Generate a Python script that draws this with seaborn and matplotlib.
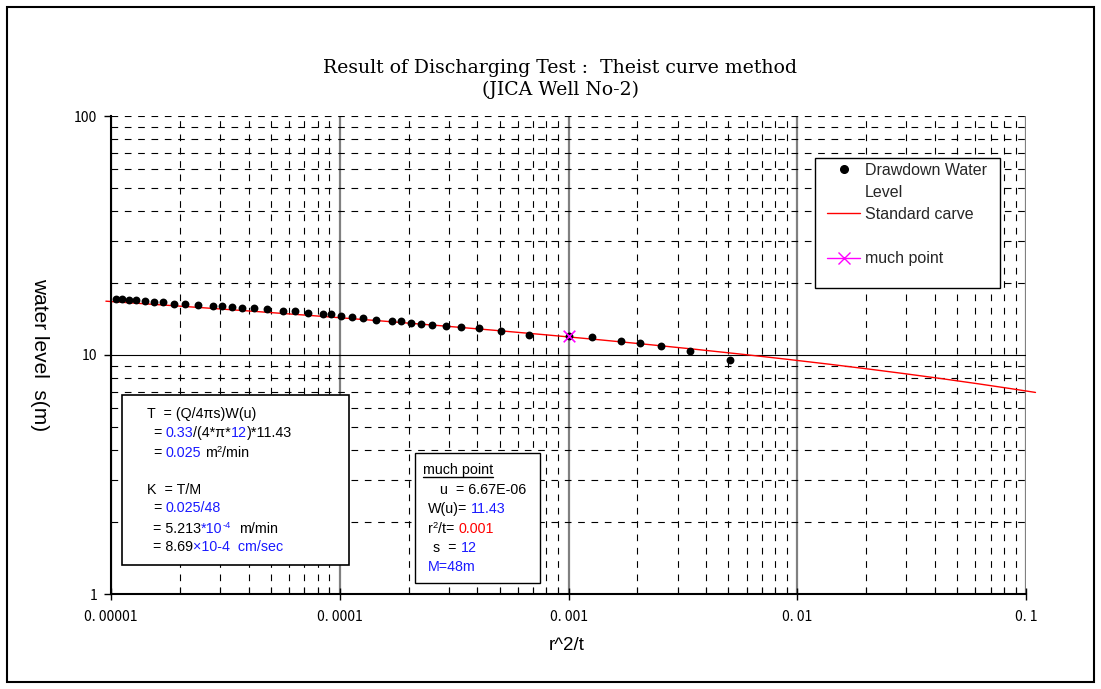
import numpy as np
import pandas as pd
import matplotlib
matplotlib.use("Agg")
import matplotlib.pyplot as plt
import seaborn as sns
from matplotlib.lines import Line2D
from matplotlib.patches import Rectangle
from matplotlib.ticker import FixedLocator, NullFormatter

# ---- observed drawdown: r^2/t (m^2/min) against drawdown s (m) ----
r2_t = [1.05e-5, 1.12e-5, 1.20e-5, 1.29e-5, 1.41e-5, 1.54e-5, 1.68e-5, 1.88e-5, 2.10e-5, 2.39e-5,
        2.79e-5, 3.06e-5, 3.39e-5, 3.73e-5, 4.23e-5, 4.83e-5, 5.64e-5, 6.37e-5, 7.26e-5, 8.44e-5,
        9.18e-5, 1.016e-4, 1.13e-4, 1.27e-4, 1.44e-4, 1.69e-4, 1.85e-4, 2.04e-4, 2.26e-4, 2.54e-4,
        2.90e-4, 3.39e-4, 4.05e-4, 5.06e-4, 6.73e-4, 1.0e-3, 1.27e-3, 1.70e-3, 2.05e-3, 2.55e-3,
        3.40e-3, 5.08e-3]
drawdown = [17.1, 17.1, 16.94, 16.94, 16.9, 16.71, 16.61, 16.39, 16.39, 16.19,
            16.03, 16.03, 15.84, 15.68, 15.68, 15.53, 15.33, 15.24, 14.92, 14.9,
            14.81, 14.61, 14.47, 14.33, 13.98, 13.84, 13.84, 13.65, 13.52, 13.39,
            13.26, 13.13, 12.93, 12.56, 12.16, 12.0, 11.93, 11.44, 11.19, 10.88,
            10.42, 9.56]

# ---- match point of the Theis type curve ----
match_u = 6.67e-6
match_wu = 11.43
match_r2t = 0.001
match_s = 12.0
curve_span = (9.5e-6, 0.11)

# ---- axes ticks ----
x_ticks = [1e-5, 1e-4, 1e-3, 1e-2, 1e-1]
x_tick_labels = ["0. 00001", "0. 0001", "0. 001", "0. 01", "0. 1"]
y_ticks = [1, 10, 100]
y_tick_labels = ["1", "10", "100"]

BLACK = "black"
BLUE = "#1a1aff"
RED = "#ff0000"
MAGENTA = "#ff00ff"


def well_function(u):
    """Theis well function W(u) = E1(u) via its power series."""
    u = np.asarray(u, dtype=float)
    total = -0.5772156649 - np.log(u)
    term = np.ones_like(u)
    for n in range(1, 30):
        term = term * (-u) / n
        total -= term / n
    return total


sns.set_style("white")
plt.rcParams["font.family"] = ["Liberation Sans", "DejaVu Sans"]

W, H = 1101, 689
fig = plt.figure(figsize=(W / 100, H / 100), dpi=100, facecolor="white")


def fx(px):
    return px / W


def fy(py):
    return 1 - py / H


ax = fig.add_axes([fx(111), fy(594), (1026 - 111) / W, (594 - 116) / H])
ax.set_xscale("log")
ax.set_yscale("log")

# standard (type) curve through the match point
xs = np.geomspace(curve_span[0], curve_span[1], 400)
s_curve = match_s / match_wu * well_function(match_u * xs / match_r2t)
sns.lineplot(x=xs, y=s_curve, ax=ax, color=RED, linewidth=1.0, estimator=None, sort=False)
ax.lines[-1].set_clip_on(False)

obs = pd.DataFrame({"r2_t": r2_t, "s": drawdown})
sns.scatterplot(data=obs, x="r2_t", y="s", ax=ax, color=BLACK, s=32, linewidth=0, zorder=3)
sns.scatterplot(x=[match_r2t], y=[match_s], ax=ax, marker="x", color=MAGENTA, s=70,
                linewidth=1.2, zorder=4)

ax.set_xlim(1e-5, 0.1)
ax.set_ylim(1, 100)
ax.set_xlabel("")
ax.set_ylabel("")

ax.set_xticks(x_ticks, labels=x_tick_labels)
ax.set_yticks(y_ticks, labels=y_tick_labels)
ax.xaxis.set_minor_locator(FixedLocator([m * 10.0 ** e for e in range(-5, -1) for m in range(2, 10)]))
ax.yaxis.set_minor_locator(FixedLocator([m * 10.0 ** e for e in (0, 1) for m in range(2, 10)]))
ax.xaxis.set_minor_formatter(NullFormatter())
ax.yaxis.set_minor_formatter(NullFormatter())

ax.tick_params(axis="y", which="major", left=True, direction="out", length=5, width=1,
               color=BLACK, pad=5, labelsize=10)
ax.tick_params(axis="y", which="minor", left=False, length=0)
ax.tick_params(axis="x", which="major", bottom=True, direction="inout", length=9, width=1,
               color=BLACK, pad=7, labelsize=10)
ax.tick_params(axis="x", which="minor", bottom=True, direction="in", length=5, width=0.8,
               color=BLACK)
for lbl in ax.get_xticklabels() + ax.get_yticklabels():
    lbl.set_fontfamily(["Noto Sans CJK JP"])
    lbl.set_color(BLACK)

# grid: solid decades, dashed intermediate values
ax.xaxis.grid(True, which="major", color="#808080", linewidth=1.6, linestyle="-")
ax.yaxis.grid(True, which="major", color=BLACK, linewidth=0.8, linestyle="-")
ax.grid(True, which="minor", color=BLACK, linewidth=0.8, linestyle=(0, (6, 6)))
for t in ax.yaxis.get_major_ticks():
    if np.isclose(t.get_loc(), 100):
        t.gridline.set_linestyle((0, (6, 6)))

for side in ("top", "right"):
    ax.spines[side].set_visible(False)
for side in ("left", "bottom"):
    ax.spines[side].set_color(BLACK)
    ax.spines[side].set_linewidth(1.5)

# titles and axis labels
fig.text(fx(560), fy(68), "Result of Discharging Test :  Theist curve method", ha="center",
         va="center", family="DejaVu Serif", fontsize=13.6, color=BLACK)
fig.text(fx(560), fy(90), "(JICA Well No-2)", ha="center", va="center",
         family="DejaVu Serif", fontsize=13.6, color=BLACK)
fig.text(fx(40), fy(355), "water level  s(m)", rotation=270, ha="center", va="center",
         fontsize=15, color=BLACK)
fig.text(fx(567), fy(645), "r^2/t", ha="center", va="center", fontsize=13.5, color=BLACK)

# legend with its own frame
fig.add_artist(Rectangle((fx(815), fy(288)), (1000 - 815) / W, (288 - 158) / H,
                         transform=fig.transFigure, facecolor="white", edgecolor=BLACK,
                         linewidth=1.0, zorder=1))
handles = [
    Line2D([], [], ls="none", marker="o", markersize=5.5, color=BLACK),
    Line2D([], [], ls="none", color="none"),
    Line2D([], [], color=RED, lw=1.0),
    Line2D([], [], ls="none", color="none"),
    Line2D([], [], color=MAGENTA, lw=1.0, marker="x", markersize=8, markeredgewidth=1.0),
]
labels = ["Drawdown Water", "Level", "Standard carve", " ", "much point"]
leg = fig.legend(handles, labels, loc="upper left", bbox_to_anchor=(fx(827), fy(163)),
                 bbox_transform=fig.transFigure, frameon=False, borderpad=0, borderaxespad=0,
                 fontsize=11.5, handlelength=2.07, handletextpad=0.31, labelspacing=0.44)
leg.set_zorder(5)

# annotation boxes with mixed-colour text
renderer = fig.canvas.get_renderer()
FS = 10.3


def advance(s, size):
    a = fig.text(0, 0, "|" + s + "|", fontsize=size)
    b = fig.text(0, 0, "||", fontsize=size)
    w = a.get_window_extent(renderer).width - b.get_window_extent(renderer).width
    a.remove()
    b.remove()
    return w


def rich_line(x, y, pieces):
    """Draw consecutive text pieces on one baseline starting at pixel (x, y)."""
    drawn = []
    for piece in pieces:
        s, color = piece[0], piece[1]
        size = FS * 0.65 if len(piece) > 2 else FS
        rise = 5 if len(piece) > 2 else 0
        lead = len(s) - len(s.lstrip(" "))
        trail = len(s) - len(s.rstrip(" "))
        core = s.strip(" ")
        if lead:
            x += advance(" " * lead, size)
        t = fig.text(fx(x), fy(y - rise), core, color=color, fontsize=size, ha="left",
                     va="baseline", zorder=3)
        drawn.append(t)
        x += advance(core, size)
        if trail:
            x += advance(" " * trail, size)
    return drawn


fig.add_artist(Rectangle((fx(122), fy(565)), (349 - 122) / W, (565 - 395) / H,
                         transform=fig.transFigure, facecolor="white", edgecolor=BLACK,
                         linewidth=1.2, zorder=1))
rich_line(147, 418, [("T  = (Q/4πs)W(u)", BLACK)])
rich_line(153, 437, [("= ", BLACK), ("0.33", BLUE), ("/(4*π*", BLACK), ("12", BLUE), (")*11.43", BLACK)])
rich_line(153, 457, [("= ", BLACK), ("0.025", BLUE), (" m", BLACK), ("2", BLACK, "sup"), ("/min", BLACK)])
rich_line(147, 494, [("K  = T/M", BLACK)])
rich_line(153, 512, [("= ", BLACK), ("0.025/48", BLUE)])
rich_line(153, 533, [("= 5.213", BLACK), ("*10", BLUE), ("-4", BLUE, "sup"), ("  m/min", BLACK)])
rich_line(153, 551, [("= 8.69", BLACK), ("×10-4  cm/sec", BLUE)])

fig.add_artist(Rectangle((fx(415), fy(583)), (540 - 415) / W, (583 - 453) / H,
                         transform=fig.transFigure, facecolor="white", edgecolor=BLACK,
                         linewidth=1.0, zorder=1))
head = rich_line(423, 474, [("much point", BLACK)])[0]
bb = head.get_window_extent(renderer)
fig.add_artist(Line2D([bb.x0 / W, bb.x1 / W], [fy(477), fy(477)], transform=fig.transFigure,
                      color=BLACK, linewidth=1.0, zorder=3))
rich_line(440, 494, [("u  = 6.67E-06", BLACK)])
rich_line(428, 513, [("W(u)= ", BLACK), ("11.43", BLUE)])
rich_line(428, 533, [("r", BLACK), ("2", BLACK, "sup"), ("/t= ", BLACK), ("0.001", RED)])
rich_line(433, 552, [("s  = ", BLACK), ("12", BLUE)])
rich_line(428, 571, [("M=48m", BLUE)])

# outer frame of the sheet
fig.add_artist(Rectangle((fx(7), fy(682)), (1094 - 7) / W, (682 - 7) / H,
                         transform=fig.transFigure, facecolor="none", edgecolor=BLACK,
                         linewidth=1.5, zorder=0))

fig.savefig("out.png", dpi=100, facecolor="white")
